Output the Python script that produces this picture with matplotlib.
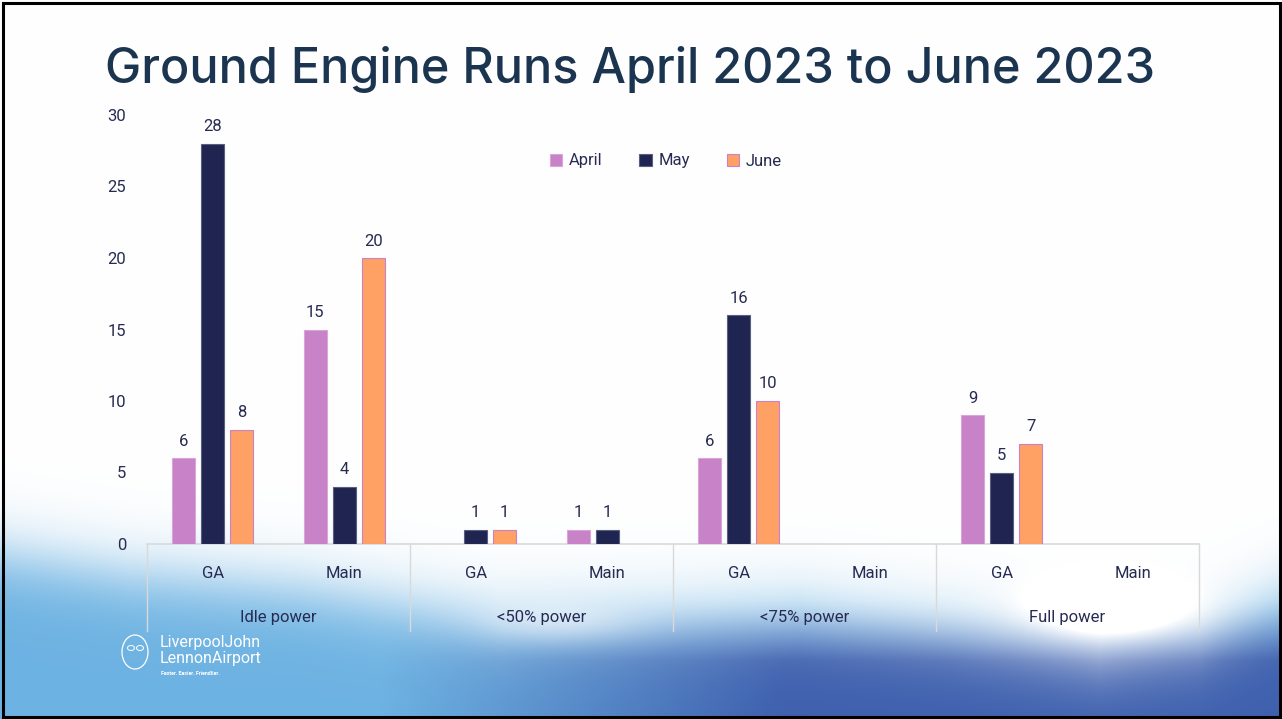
import numpy as np
import matplotlib
matplotlib.use("Agg")
import matplotlib.pyplot as plt
from matplotlib.patches import Rectangle, Ellipse, Patch
from matplotlib.transforms import blended_transform_factory

plt.rcParams['font.family'] = ['Roboto', 'DejaVu Sans']

# data
groups = ["Idle power", "<50% power", "<75% power", "Full power"]
subcats = ["GA", "Main"]
months = ["April", "May", "June"]
april = [6, 15, np.nan, 1, 6, np.nan, 9, np.nan]
may = [28, 4, 1, 1, 16, np.nan, 5, np.nan]
june = [8, 20, 1, np.nan, 10, np.nan, 7, np.nan]

colors = ["#c882c8", "#202451", "#ffa064"]
edges = ["#d9a6d9", "#5a5f80", "#c882c8"]
txt = "#272b52"

W, H = 1282, 719
fig = plt.figure(figsize=(W / 100, H / 100), dpi=100)

# slide background (white with blue clouds at the bottom)
bg = fig.add_axes([0, 0, 1, 1])
xx, yy = np.meshgrid(np.arange(W), np.arange(H))
bx = [0, 130, 300, 500, 650, 800, 950, 1100, 1200, 1282]
by = [555, 575, 590, 622, 618, 612, 630, 655, 640, 600]
yb = np.interp(xx, bx, by)
mask = 1 / (1 + np.exp(-(yy - yb) / 20.0))
cloud = np.exp(-(((xx - 1110) / 70.0) ** 2 + ((yy - 610) / 25.0) ** 2))
cloud += 0.4 * np.exp(-(((xx - 560) / 80.0) ** 2 + ((yy - 625) / 20.0) ** 2))
mask = np.clip(mask - 0.6 * cloud, 0, 1)
light = np.array([108, 178, 226]) / 255
dark = np.array([62, 96, 174]) / 255
t = np.clip((xx - 380) / 400.0, 0, 1) * np.clip((yy - 600) / 60.0, 0, 1)
t = t[..., None]
blue = light * (1 - t) + dark * t
img = np.ones((H, W, 3)) * (1 - mask[..., None]) + blue * mask[..., None]
bg.imshow(img, extent=[0, W, H, 0], aspect="auto", interpolation="bilinear")
bg.set_xlim(0, W)
bg.set_ylim(H, 0)
bg.axis("off")

# logo
bg.text(160, 647, "LiverpoolJohn", color="white", fontsize=11.5, ha="left", va="baseline")
bg.text(160, 663, "LennonAirport", color="white", fontsize=11.5, ha="left", va="baseline")
bg.text(161, 675, "Faster. Easier. Friendlier.", color="white", fontsize=3.8,
        ha="left", va="baseline", fontweight="bold")
bg.add_patch(Ellipse((135, 652), 26, 34, fill=False, ec="white", lw=0.9))
bg.add_patch(Ellipse((131, 648), 7, 5, fill=False, ec="white", lw=0.7))
bg.add_patch(Ellipse((140, 648), 7, 5, fill=False, ec="white", lw=0.7))

# border
bg.add_patch(Rectangle((3, 3), W - 5, H - 5, fill=False, ec="black", lw=2.2))

# title
bg.text(105, 83, "Ground Engine Runs April 2023 to June 2023", color="#1b3550",
        fontsize=35, family=["Inter", "DejaVu Sans"], fontweight="medium",
        ha="left", va="baseline")

# chart
ax = fig.add_axes([147 / W, (H - 544) / H, (1199 - 147) / W, 429 / H])
ax.set_facecolor("none")
x = np.arange(len(groups) * len(subcats))
bw = 0.175
step = 0.22
for k, (vals, c, e) in enumerate(zip([april, may, june], colors, edges)):
    ax.bar(x + (k - 1) * step, vals, width=bw, color=c, edgecolor=e,
           linewidth=0.8, label=months[k], zorder=3)
    for xi, v in zip(x + (k - 1) * step, vals):
        if not np.isnan(v):
            ax.annotate(f"{int(v)}", (xi, v), xytext=(0, 9), textcoords="offset points",
                        ha="center", va="baseline", fontsize=12, color=txt)

ax.set_xlim(-0.5, len(x) - 0.5)
ax.set_ylim(0, 30)
ax.set_yticks(range(0, 31, 5))
ax.tick_params(axis="y", length=0, pad=15, labelsize=12, labelcolor=txt)
ax.set_xticks([])
for s in ["top", "right", "left"]:
    ax.spines[s].set_visible(False)
ax.spines["bottom"].set_color("#d9d9d9")
ax.spines["bottom"].set_linewidth(1.2)

tr = blended_transform_factory(ax.transData, ax.transAxes)
for i, xi in enumerate(x):
    ax.text(xi, -0.068, subcats[i % 2], transform=tr, ha="center", va="center",
            fontsize=12, color=txt)
for g, name in enumerate(groups):
    ax.text(2 * g + 0.5, -0.171, name, transform=tr, ha="center", va="center",
            fontsize=12, color=txt)
for b in np.arange(-0.5, len(x), 2):
    ax.plot([b, b], [0, -0.203], transform=tr, color="#d9d9d9", lw=1.0, clip_on=False)

handles = [Patch(facecolor=c, edgecolor=e, linewidth=0.8) for c, e in zip(colors, edges)]
fig.legend(handles, months, loc="center", bbox_to_anchor=(666 / W, (H - 161) / H),
           ncol=3, frameon=False, fontsize=12, labelcolor=txt, handlelength=0.75,
           handleheight=0.75, handletextpad=0.4, columnspacing=2.2)

fig.savefig("out.png", dpi=100)
